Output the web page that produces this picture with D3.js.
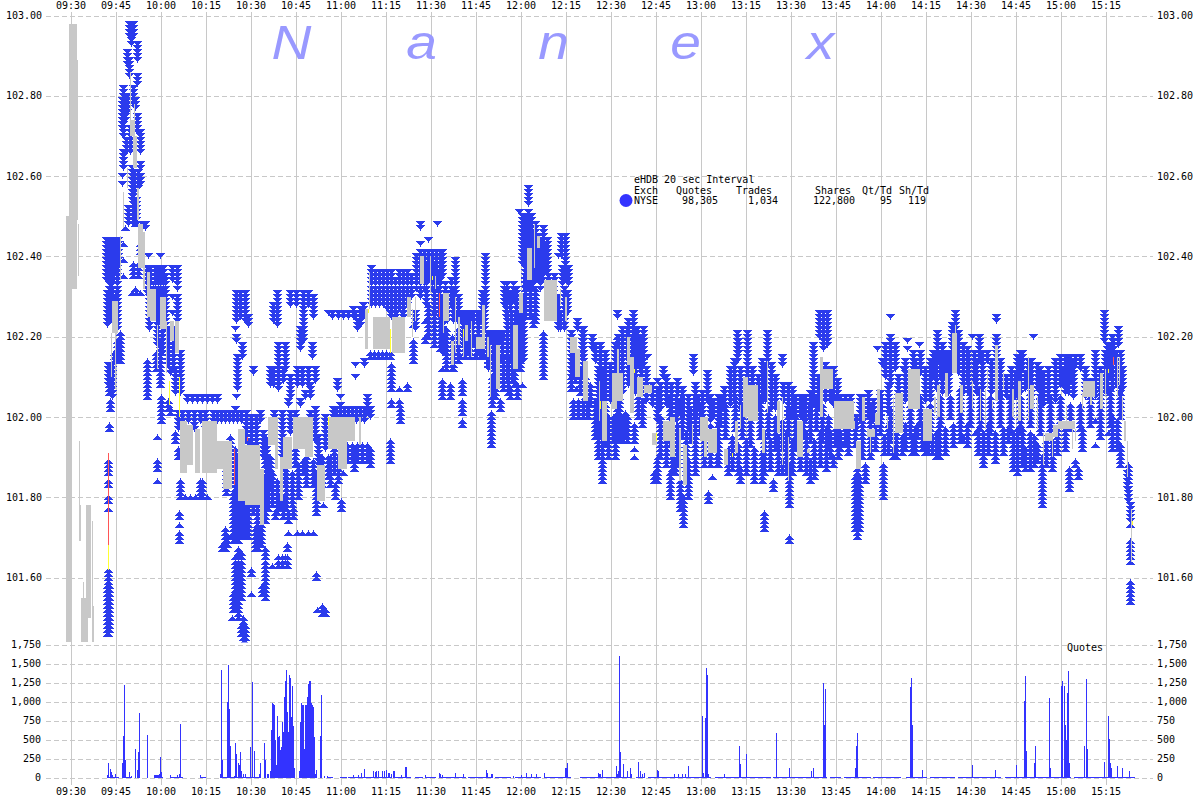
<!DOCTYPE html>
<html><head><meta charset="utf-8">
<script src="https://cdn.jsdelivr.net/npm/d3@7"></script>
<style>
html,body{margin:0;padding:0;background:#fff}
svg{display:block}
text{font-family:"DejaVu Sans Mono",monospace;font-size:10px;fill:#000}
</style></head><body><svg id="c" width="1200" height="800"></svg>
<script>
// Time is the 20-second interval number since 09:30. Prices are cents above 100.00.
const timeLabels=["09:30","09:45","10:00","10:15","10:30","10:45","11:00","11:15","11:30","11:45","12:00","12:15","12:30","12:45","13:00","13:15","13:30","13:45","14:00","14:15","14:30","14:45","15:00","15:15"];
const priceTicks=[101.6,101.8,102,102.2,102.4,102.6,102.8,103];
const quoteTicks=[0,250,500,750,1000,1250,1500,1750];
const brandLetters=["N","a","n","e","x"];
const brandBuckets=[221,351,483,615,750];
const legendHeaders=["Exch","Quotes","Trades","Shares","Qt/Td","Sh/Td"];
const legendValues=["NYSE","98,305","1,034","122,800","95","119"];

// [interval, top cents, bottom cents]: a triangle at each penny level
const askStacks=[[61,298,293],[59,298,295],[63,298,295],[67,293,289],[57,291,288],[59,289,285],[67,285,283],[53,282,270],[52,279,272],[55,280,274],[63,282,278],[65,279,277],[67,275,271],[70,271,266],[56,269,266],[53,266,262],[70,263,262],[52,260,260],[52,258,258],[70,260,258],[62,262,254],[64,261,256],[68,261,257],[75,248,247],[72,248,247],
[38,244,234],[41,244,233],[43,244,234],[45,244,236],[48,244,238],[40,238,233],[37,231,223],[40,231,224],[43,230,226],[46,231,226],[38,213,208],[78,240,240],[90,240,240],
[77,237,231],[80,237,232],[85,237,226],[88,237,224],[90,237,226],[93,237,224],[95,235,226],[102,237,234],[107,237,232],[107,230,224],[102,230,230],[102,226,226],[95,226,222],[110,216,206],[100,212,211],[105,212,206],
[117,205,204],[122,205,204],[127,205,204],[132,205,204],[137,205,204],[142,205,204],[147,205,204],
[166,231,224],[170,231,225],[175,231,224],[178,225,223],[165,222,222],[166,220,219],[172,218,215],[167,215,207],[166,205,205],[165,202,202],[183,212,211],[207,231,223],[203,228,224],[226,231,228],[233,231,219],[230,222,217],[243,230,225],[238,231,228],[220,231,228],
[208,218,212],[215,218,212],[242,218,215],[200,212,208],[203,212,208],[208,212,207],[213,212,209],[220,210,205],[227,212,208],[232,212,208],[238,212,208],[245,212,209],[240,208,205],[235,206,205],
[258,226,226],[262,226,225],[268,226,225],[273,226,225],[278,226,225],[285,226,225],[290,227,223],[287,224,222],[285,213,213],[285,210,210],[294,213,213],[267,209,207],[270,203,203],
[143,201,199],[147,201,199],[151,201,199],[155,201,199],[159,201,199],[163,201,199],[167,201,199],[171,201,199],[108,201,197],[190,201,199],[218,204,203],[245,202,194],[204,201,195],[220,201,196],[230,204,203],[270,205,205],
[263,202,199],[266,202,199],[270,202,199],[274,202,199],[278,202,199],[282,202,199],[286,202,199],[290,202,199],[294,202,199],[297,205,201],[300,202,200],
[283,227,225],[293,228,225],[294,214,214],[301,237,228],[305,236,228],[309,236,228],[313,236,228],[317,236,227],[321,236,225],[325,234,225],[329,236,227],[333,236,225],[337,236,228],[341,235,230],[320,226,226],[326,226,226],[332,226,226],
[350,241,230],[354,241,232],[358,241,234],[362,241,232],[366,241,232],[370,241,233],[372,241,235],[350,248,247],[367,248,248],[358,244,244],[350,243,243],[385,239,231],[381,234,228],[377,231,224],[372,230,216],[345,226,222],
[387,226,224],[391,226,224],[395,226,224],[399,226,223],[403,226,224],[407,226,224],[411,226,224],[415,240,228],[412,231,226],[414,228,222],
[417,221,219],[421,221,219],[425,221,219],[429,221,219],[433,221,220],[437,221,218],[434,233,228],[443,233,229],[437,233,229],[440,231,227],[437,226,215],[441,226,214],[445,226,216],[449,226,212],
[458,257,253],[458,251,232],[449,251,251],[452,250,238],[455,250,232],[461,250,234],[465,248,234],[468,245,234],[473,247,236],[477,244,236],[495,245,234],[491,245,240],[488,240,240],[492,237,233],[498,237,233],[497,231,226],[490,226,222],[507,224,222],[501,221,210],[513,222,210],[522,220,217],[525,218,214],[472,235,234],[478,235,234],[484,235,234],
[530,212,200],[547,226,225],[563,226,221],[512,222,215],[522,220,218],[548,220,211],[567,222,213],[573,222,213],[557,222,215],[570,220,212],[577,215,215],[562,220,210],[528,212,195],[593,212,210],[587,209,209],[607,209,206],[623,215,211],[637,211,204],[628,205,202],[587,207,199],[608,204,201],[643,204,200],[654,207,202],
[667,221,214],[677,221,214],[668,219,216],[677,213,204],[697,221,213],[712,215,213],[695,213,204],[713,208,204],[725,205,200],[730,205,200],[743,218,203],[753,226,217],[749,226,220],[757,226,218],[760,212,204],[767,209,205],
[765,205,203],[770,205,203],[775,205,203],[780,205,203],[793,205,199],[807,217,217],[812,214,213],[820,225,225],[820,220,208],[815,218,210],[825,218,212],[837,219,219],[837,217,217],[849,218,218],[850,216,211],[845,214,211],[833,212,212],[867,221,214],[863,216,210],[870,216,210],[875,216,210],[880,216,211],[885,226,221],[882,223,216],[888,221,211],[926,225,224],[902,220,220],[909,220,214],[926,220,207],[963,220,220],[897,217,209],[904,216,209],[917,216,214],[952,216,212],[958,214,208],[967,213,207],[973,211,203],[945,211,205],[955,211,207],
[995,215,206],[990,215,208],[1000,215,209],[1005,215,213],[1010,215,212],[992,212,208],[1034,226,219],[1048,222,218],[1043,219,214],[1035,216,206],[1040,218,210],[1052,212,207],[1046,216,208],[1030,212,207],[1020,209,205],[1058,182,179],[1060,178,174],[1057,186,182]];

// further ask stacks read from the dense parts of the session
const askDense=[[36,244,234],[39,240,226],[42,240,224],[47,238,222],[42,213,205],[57,280,276],[60,272,266],[63,256,248],[66,254,248],[58,252,248],[79,232,222],[83,233,225],[87,228,218],[92,226,216],[98,222,213],[103,222,212],
[112,201,198],[118,201,199],[124,201,197],[130,201,199],[135,201,197],[176,201,194],[181,200,192],[186,200,191],[193,196,190],[196,194,186],[212,201,190],[225,201,197],[240,201,194],[248,195,188],[255,200,192],
[346,240,232],[356,238,228],[364,238,226],[369,236,225],[375,233,224],[383,232,224],[388,230,224],[393,226,218],[398,226,216],[402,226,218],[408,226,216],[413,224,216],[418,221,212],[423,221,212],[428,221,214],[432,221,214],[436,233,225],[446,232,224],[451,230,220],[453,226,214],[456,250,236],[463,246,232],[470,244,232],[475,243,236],[483,232,226],[488,230,222],[494,232,222],
[530,218,206],[535,216,204],[540,213,204],[545,218,205],[552,222,206],[558,224,208],[565,222,206],[571,220,206],[576,212,204],[582,208,203],[590,208,202],[596,210,203],[601,208,200],[606,205,199],[612,207,200],[618,205,197],[625,208,200],[632,206,198],[640,205,199],[648,205,198],[660,212,203],[664,214,204],[670,212,202],[682,212,203],[688,210,202],[692,214,204],[701,213,202],[705,210,202],[718,208,200],[722,207,200],[735,205,199],[740,206,200],[748,210,202],[755,213,204],[763,212,203],[786,200,197],[790,205,199],[798,206,200],[803,204,199],[810,206,200],[818,208,201],[828,210,202],[835,214,204],[843,216,206],[855,212,204],[860,214,204],
[866,216,207],[872,218,206],[878,216,206],[893,218,206],[898,216,206],[906,214,206],[912,216,207],[921,214,206],[930,214,205],[936,210,205],[941,212,204],[947,215,205],[950,216,206],[961,214,205],[970,212,204],[978,212,204],[985,214,204],[998,215,206],[1003,214,205],[1015,212,205],[1025,216,205],[1037,218,206],[1042,220,207],[1050,216,206]];

const bidStacks=[[65,252,250],[65,248,248],[55,247,247],[53,243,243],[53,239,239],[53,235,235],[63,238,235],[68,238,235],[65,232,232],[62,231,231],[66,231,231],[70,231,231],[70,243,241],
[50,221,214],[47,219,214],[44,216,214],[77,214,205],[90,219,208],[86,216,212],[91,205,199],[98,204,202],[87,195,195],[87,189,187],[87,184,184],[100,202,201],[105,196,194],[108,192,190],[110,184,180],[109,176,175],[109,173,173],[109,171,169],
[39,213,206],[40,204,202],[39,198,197],[38,189,186],[38,184,183],[38,180,179],[38,177,177],[38,162,146],[37,158,146],[39,158,147],
[115,180,180],[120,180,180],[125,180,180],[130,184,180],[137,180,180],[132,184,180],
[163,181,169],[165,183,169],[168,181,169],[170,181,170],[172,181,170],[175,178,170],[178,178,170],[160,170,170],[155,172,167],[152,168,167],[157,170,168],[185,172,167],[188,172,167],[168,167,150],[165,165,152],[171,166,155],[163,156,152],[162,150,150],[173,150,144],[175,148,144],[171,148,146],
[195,185,174],[192,180,176],[195,167,155],[192,158,156],[181,162,161],[181,156,156],[210,180,177],[205,176,175],[218,176,174],[223,177,175],[218,171,171],[217,168,167],[215,165,164],[217,165,163],[208,165,163],[212,165,163],[202,163,163],
[227,171,171],[232,171,171],[238,171,171],[243,171,171],[246,186,176],[253,178,178],[246,161,160],[252,153,151],[247,152,152],[255,152,151],[233,189,186],[222,184,184],[265,183,180],[271,179,177],
[277,193,189],[282,193,189],[287,193,189],[292,193,189],[297,193,189],[273,186,186],[197,186,178],[200,190,182],[178,194,190],[225,192,188],[195,195,188],[260,190,183],[300,192,188],[215,188,183],
[300,216,215],[304,216,215],[308,216,215],[312,216,215],[316,216,215],[320,216,215],[321,213,207],[329,207,207],[329,204,203],[321,204,203],[337,208,207],[330,202,199],[320,194,189],[343,219,214],[355,224,224],[355,220,219],[343,223,223],
[372,212,212],[372,209,205],[380,208,205],[392,209,206],[392,204,201],[392,199,198],[383,217,212],
[390,215,215],[395,215,215],[400,215,215],[405,215,215],[410,215,215],[415,215,215],[420,215,215],[422,210,203],[425,210,205],[430,204,202],[421,201,193],[440,207,205],[447,208,205],[452,208,208],[437,215,209],[442,215,209],[448,216,212],
[463,225,223],[473,221,210],[501,210,207],[503,204,200],[508,204,200],[513,204,200],[518,204,200],[506,207,207],
[532,200,189],[547,220,194],[549,205,195],[533,212,203],[528,195,190],[532,190,184],[517,204,200],[543,200,194],[550,200,194],[553,200,194],[557,200,194],[564,198,194],[564,192,192],[564,190,190],[568,205,200],
[587,189,184],[584,186,184],[588,190,190],[600,186,180],[610,184,177],[613,180,173],[618,189,180],[638,181,179],[642,185,185],[605,189,186],[647,190,188],[630,203,196],[670,187,184],[692,191,184],[694,176,172],[703,184,182],[719,188,178],[719,170,169],[712,189,186],[740,189,184],[760,196,190],[763,190,188],[773,193,193],[787,187,170],[785,185,172],[789,185,172],[795,188,184],[800,195,190],[813,188,180],[814,195,191],[823,192,190],[832,195,191],[842,195,191],[847,198,195],[855,195,191],[858,195,191],[862,195,191],[869,198,190],[890,196,194],[893,195,194],[905,196,196],[913,196,188],[938,197,194],[947,197,186],[955,192,187],[967,193,189],[972,190,178],
[982,194,187],[999,187,182],[1008,187,185],[1005,189,188],[1025,193,193],[1038,196,196],[1025,199,199],[1050,193,188],[1058,188,184],[1060,169,165],[1060,164,164],[1060,159,154],[1060,173,173],
[600,205,193],[612,205,195],[620,202,194],[625,205,196],[650,205,198],[655,203,195],[665,205,197],[672,203,195],[680,200,193],[690,205,195],[698,202,195],[705,200,192],[712,199,192],[718,202,194],[725,200,192],[733,205,195],[740,203,194],[746,205,197],[752,203,194],[758,200,192],[765,197,193],[770,196,192],[775,203,193],[785,197,193],[800,203,196],[810,205,196],[820,202,194],[830,205,197],[840,203,195],[850,205,198],[860,203,196],[870,205,198],[880,205,200],[890,207,197],[900,207,198],[910,207,197],[920,205,196],[930,206,198],[940,205,196],[950,205,196],[960,206,198],[970,205,196],[980,205,196],[990,205,198],[1000,203,197],[1010,203,197],[1020,205,198],[1030,207,196],[1040,207,198],[1050,206,200]];

// further bid stacks read from the dense parts of the session
const bidDense=[[160,195,183],[156,188,181],[165,192,183],[168,190,180],[172,186,178],[180,185,178],[183,184,176],[187,180,172],[191,176,168],[198,182,177],[202,186,178],[207,184,176],[213,180,175],[216,186,177],[222,186,178],[228,188,180],[236,190,183],[243,189,183],[252,190,183],[258,190,185],[264,192,186],[268,190,184],[284,192,187],
[358,228,220],[364,226,218],[370,224,217],[376,222,212],[382,220,212],[388,222,214],[394,223,216],[400,220,215],[406,220,215],[412,218,215],[418,219,213],[424,218,207],[428,215,209],[433,215,207],[438,214,206],[444,215,208],[450,222,212],[455,235,225],[460,233,225],[465,232,224],[505,216,209],[510,212,206],[515,210,204],[520,208,203],
[525,204,195],[535,203,193],[538,200,190],[545,200,190],[555,201,195],[572,204,198],[590,200,190],[596,198,188],[602,196,186],[607,198,188],[616,196,186],[625,196,186],[634,196,188],[640,198,188],[648,198,188],[658,192,186],[662,195,187],[668,193,186],[676,194,186],[684,192,184],[694,196,186],[700,194,187],[708,195,186],[716,196,186],[722,194,186],[730,196,187],[736,196,186],[744,194,185],[750,196,188],[756,197,187],[768,197,190],[778,198,191],[792,199,190],[805,198,192],[818,198,191],[826,196,190],[835,198,192],[845,197,191],[852,198,192],[866,196,190],[875,197,191],[883,198,193],[897,198,193],[908,197,191],[918,198,191],[925,196,189],[933,197,191],[943,196,187],[952,197,188],[960,196,187],[964,195,188],[976,194,188],[987,197,191],[995,198,192],[1012,197,192],[1030,200,195],[1042,200,192],[1047,199,192]];

// [first interval, last interval, high cents, low cents]
const tradeBands=[[-1,7,298,232],[-4,1,250,144],[7,8,289,249],[8,9,248,235],[9,10,194,169],[10,11,178,169],[11,18,155,144],[13,14,159,155],[16,21,178,150],[22,23,174,144],[23,24,153,144],
[60,61,286,274],[60,65,274,270],[63,67,270,262],[64,65,278,274],[57,58,262,257],[53,54,256,247],[67,69,257,249],[68,73,248,237],[73,75,246,232],[77,80,236,225],[80,86,232,224],[90,96,230,222],[87,88,223,212],[96,97,224,211],[100,104,224,219],[105,109,224,216],[45,46,221,207],[42,48,229,221],[41,42,221,210],[50,51,245,234],
[110,117,199,186],[117,123,198,188],[125,130,197,186],[132,147,199,186],[147,153,194,187],[153,162,194,182],[168,175,197,179],[175,190,193,178],[190,194,187,173],[198,208,200,193],[205,208,193,187],[210,213,190,179],[213,222,195,187],[223,235,200,192],[235,243,200,190],[247,255,188,179],[258,277,200,192],[268,277,192,187],[277,285,200,194],[289,291,200,193],
[295,298,227,217],[299,300,236,227],[303,320,225,217],[322,335,225,216],[337,341,230,225],[342,343,227,220],[345,346,230,224],[350,354,240,233],[360,361,240,231],[365,366,235,232],[373,379,231,224],[373,374,224,221],[381,384,219,213],[385,386,230,216],[388,390,225,218],[395,398,223,219],[393,394,222,215],[401,402,224,215],[406,413,220,217],[412,415,228,217],[417,419,220,215],[420,421,218,205],[426,430,218,207],[443,448,223,212],[449,453,231,226],[457,462,242,234],[464,465,248,237],[467,470,245,242],[474,487,234,224],[490,491,232,228],[495,497,230,224],[500,507,220,216],[505,510,217,210],[513,518,214,204],[529,530,209,199],[532,537,204,194],[542,547,211,202],[547,549,217,204],[548,553,211,204],[557,560,220,213],[560,564,215,201],[567,573,210,205],[574,582,208,206],[582,587,196,193],[593,600,199,194],[600,605,200,190],[609,611,197,184],[613,617,193,183],[622,623,198,193],[630,638,200,194],[634,637,194,190],[638,647,197,191],[654,658,192,188],[665,668,199,191],[670,671,203,197],[673,678,210,200],[678,688,208,199],[692,695,197,191],[697,698,214,201],[707,710,204,196],[712,713,205,188],[718,719,195,184],[727,733,199,190],[737,740,192,191],[750,753,215,200],[753,763,212,207],[764,784,204,197],[784,785,199,197],[786,791,194,187],[792,795,205,199],[797,805,197,195],[800,801,195,191],[805,810,201,198],[807,810,207,201],[817,818,200,197],[823,824,205,191],[825,833,206,196],[838,850,212,202],[853,862,202,194],[864,866,205,201],[867,870,208,200],[875,878,211,205],[882,887,221,211],[885,886,223,221],[890,893,208,201],[902,903,209,202],[910,911,207,199],[915,916,207,197],[917,918,212,207],[922,923,204,202],[925,928,218,204],[933,934,211,207],[942,944,207,200],[948,951,209,199],[958,959,215,199],[960,964,208,202],[967,968,205,197],[973,974,196,188],[975,983,196,194],[982,983,195,190],[983,988,198,195],[988,1005,199,197],[996,997,203,199],[1002,1003,198,192],[1005,1006,197,194],[1012,1013,206,202],[1013,1025,209,205],[1020,1022,205,203],[1030,1033,211,202],[1035,1036,212,205],[1047,1048,215,205],[1049,1050,215,208],[1052,1053,205,199],[1054,1056,199,194],[1057,1058,194,185],[1061,1062,177,164]];

// [interval, high cents, low cents]
const redTicks=[[38,191,168],[164,192,183],[177,195,194],[369,231,225],[1043,215,213]];
const yellowTicks=[[38,168,162],[99,209,203],[109,210,200],[320,222,216],[362,235,234],[393,222,220],[530,204,202],[564,212,211],[586,196,194],[662,191,190],[298,227,226],[258,200,198],[1038,212,211],[1062,174,173]];

// Quote counts per interval
const quoteBuckets=[37,38,40,41,42,45,52,53,54,55,59,61,65,67,68,69,77,84,85,86,87,88,89,90,91,100,107,109,110,130,150,151,152,157,158,159,160,164,165,166,168,169,170,171,173,175,180,182,184,189,190,194,195,197,198,
200,201,202,203,204,205,206,207,208,209,210,211,212,213,214,215,216,217,218,219,220,221,222,223,224,229,230,231,232,233,234,235,236,237,238,239,240,241,242,243,244,245,246,250,251,254,257,
283,288,291,294,303,305,306,308,312,314,316,318,319,321,323,324,331,335,336,355,369,370,372,385,393,416,417,421,422,443,451,456,461,466,474,495,496,497,528,529,530,532,
546,547,548,549,550,553,557,560,561,568,570,572,574,587,588,604,608,612,615,618,632,633,635,636,637,638,654,669,670,676,
706,719,741,743,753,754,755,785,786,787,840,841,842,852,902,925,946,954,955,956,964,965,979,980,991,992,994,995,996,997,998,999,1014,1016,1017,1034,1038,1039,1040,1041,1047,1052,1059];
const quoteValues=[30,190,115,70,30,50,195,540,1220,225,70,15,380,100,330,855,565,30,30,30,30,35,50,265,70,30,30,40,710,30,40,1410,225,990,1475,900,410,15,460,315,190,160,330,90,40,40,395,1255,355,40,195,450,235,40,40,
90,620,985,970,960,490,160,815,530,540,360,400,730,600,1060,1265,1410,860,600,1355,1310,800,1210,680,120,85,725,980,950,960,380,960,960,1060,1225,1265,1265,985,960,925,530,40,100,540,1090,25,15,
30,30,65,110,85,75,85,85,85,85,95,65,55,40,85,85,30,135,135,30,55,40,30,55,40,95,55,40,40,25,30,55,40,40,55,120,120,185,65,45,50,95,
150,50,85,1595,335,175,85,120,40,200,85,50,55,95,85,40,40,40,40,150,805,55,780,1440,1345,40,40,410,175,305,
580,120,80,120,1240,695,1170,130,420,590,1185,1315,695,105,160,105,160,1010,1340,355,195,420,1040,120,1210,1275,1210,695,500,1115,1395,185,410,1290,380,210,815,510,195,120,145,130,90];
// [first, last] runs of low-count intervals
const lowQuoteRuns=[[37,48],[52,60],[84,92],[100,112],[130,135],[150,190],[258,262],[270,276],[278,290],[292,320],[323,340],[345,352],[356,365],[369,395],[398,420],[425,440],[445,470],[474,500],[510,560],[566,574],[578,640],[645,700],[703,756],[760,770],[774,800],[803,830],[836,856],[860,884],[888,930],[935,1000],[1004,1064]];
const lowQuoteValue=13;

const width=1200,height=800;
const x=d3.scaleLinear().domain([0,1035]).range([70.5,1105.5]);
const yP=d3.scaleLinear().domain([101.44,103]).range([641.8,15.5]);
const yQ=d3.scaleLinear().domain([0,1750]).range([777.5,644.5]);
const cents=c=>100+c/100;
const tickBuckets=timeLabels.map((_,i)=>i*45);
const svg=d3.select("#c");
const grey="#c8c8c8",blue="#2b3bec",barBlue="#3333ff";

function style(g){g.select(".domain").remove();g.selectAll(".tick line").attr("stroke",grey).attr("shape-rendering","crispEdges");g.selectAll("text").attr("fill","#000");}
svg.append("g").attr("transform","translate(0,12)")
  .call(d3.axisTop(x).tickValues(tickBuckets).tickFormat(d=>timeLabels[d/45]).tickSize(-773).tickPadding(3)).call(style);
svg.append("g").attr("transform","translate(0,785)")
  .call(d3.axisBottom(x).tickValues(tickBuckets).tickFormat(d=>timeLabels[d/45]).tickSize(0).tickPadding(3)).call(style);
const fp=d3.format(".2f"),fq=d3.format(",");
svg.append("g").attr("transform","translate(46,0)")
  .call(d3.axisLeft(yP).tickValues(priceTicks).tickFormat(fp).tickSize(-1107).tickPadding(4)).call(style)
  .selectAll(".tick line").attr("stroke-dasharray","5 3");
svg.append("g").attr("transform","translate(1153,0)")
  .call(d3.axisRight(yP).tickValues(priceTicks).tickFormat(fp).tickSize(0).tickPadding(4)).call(style);
svg.append("g").attr("transform","translate(46,0)")
  .call(d3.axisLeft(yQ).tickValues(quoteTicks).tickFormat(fq).tickSize(-1107).tickPadding(5)).call(style)
  .selectAll(".tick line").attr("stroke-dasharray","5 3");
svg.append("g").attr("transform","translate(1153,0)")
  .call(d3.axisRight(yQ).tickValues(quoteTicks).tickFormat(fq).tickSize(0).tickPadding(4)).call(style);

svg.append("g").selectAll("text").data(brandLetters).join("text")
  .attr("transform",(d,i)=>`translate(${x(brandBuckets[i])},59) scale(1.15,1)`).attr("text-anchor","middle")
  .style("font-family","'Liberation Sans'").style("font-style","italic").style("font-size","48px").style("fill","#9999ff").text(d=>d);

const defs=svg.append("defs");
defs.append("clipPath").attr("id","top").append("rect").attr("x",0).attr("y",15).attr("width",width).attr("height",627.5);
const main=svg.append("g").attr("clip-path","url(#top)");

const expand=a=>a.flatMap(([b,t,l])=>d3.range(l,t+1).map(c=>({b,c})));
const hw=4.6,hh=2.6;
main.append("path").attr("fill",blue).attr("shape-rendering","crispEdges").attr("d",expand(askStacks.concat(askDense)).map(({b,c})=>{const X=x(b),Y=Math.round(yP(cents(c)));return `M${X-hw} ${Y-hh}H${X+hw}L${X} ${Y+hh}Z`;}).join(""));
main.append("path").attr("fill",blue).attr("shape-rendering","crispEdges").attr("d",expand(bidStacks.concat(bidDense)).map(({b,c})=>{const X=x(b),Y=Math.round(yP(cents(c)));return `M${X-hw} ${Y+hh}H${X+hw}L${X} ${Y-hh}Z`;}).join(""));

main.append("g").attr("fill",grey).attr("shape-rendering","crispEdges").selectAll("rect").data(tradeBands).join("rect")
  .attr("x",d=>x(d[0])-.5).attr("width",d=>x(d[1])-x(d[0]))
  .attr("y",d=>yP(cents(d[2]))).attr("height",d=>yP(cents(d[3]))-yP(cents(d[2])));
const ticks=(arr,col)=>main.append("g").attr("stroke",col).attr("shape-rendering","crispEdges").selectAll("line").data(arr).join("line")
  .attr("x1",d=>x(d[0])).attr("x2",d=>x(d[0])).attr("y1",d=>yP(cents(d[1]))).attr("y2",d=>yP(cents(d[2])));
ticks(redTicks,"#ff5555");ticks(yellowTicks,"#ffff33");

const lowBuckets=lowQuoteRuns.flatMap(([a,b])=>d3.range(a,b+1));
const bars=svg.append("g").attr("fill",barBlue).attr("shape-rendering","crispEdges");
bars.selectAll("rect.low").data(lowBuckets).join("rect").attr("class","low")
  .attr("x",d=>x(d)-.5).attr("width",1).attr("y",yQ(lowQuoteValue)).attr("height",yQ(0)-yQ(lowQuoteValue));
bars.selectAll("rect.q").data(quoteBuckets).join("rect").attr("class","q")
  .attr("x",d=>x(d)-.5).attr("width",1).attr("y",(d,i)=>yQ(quoteValues[i])).attr("height",(d,i)=>yQ(0)-yQ(quoteValues[i]));
svg.append("text").attr("x",1067).attr("y",651).text("Quotes");

const headX=[634,676,736,815,862,899],valX=[634,682,748,813,880,908];
svg.append("text").attr("x",634).attr("y",183).text("eHDB 20 sec Interval");
svg.append("g").selectAll("text").data(legendHeaders).join("text").attr("x",(d,i)=>headX[i]).attr("y",193.5).text(d=>d);
svg.append("g").selectAll("text").data(legendValues).join("text").attr("x",(d,i)=>valX[i]).attr("y",204).text(d=>d);
svg.append("circle").attr("cx",626).attr("cy",200.5).attr("r",6.5).attr("fill","#3333ff");
</script></body></html>
